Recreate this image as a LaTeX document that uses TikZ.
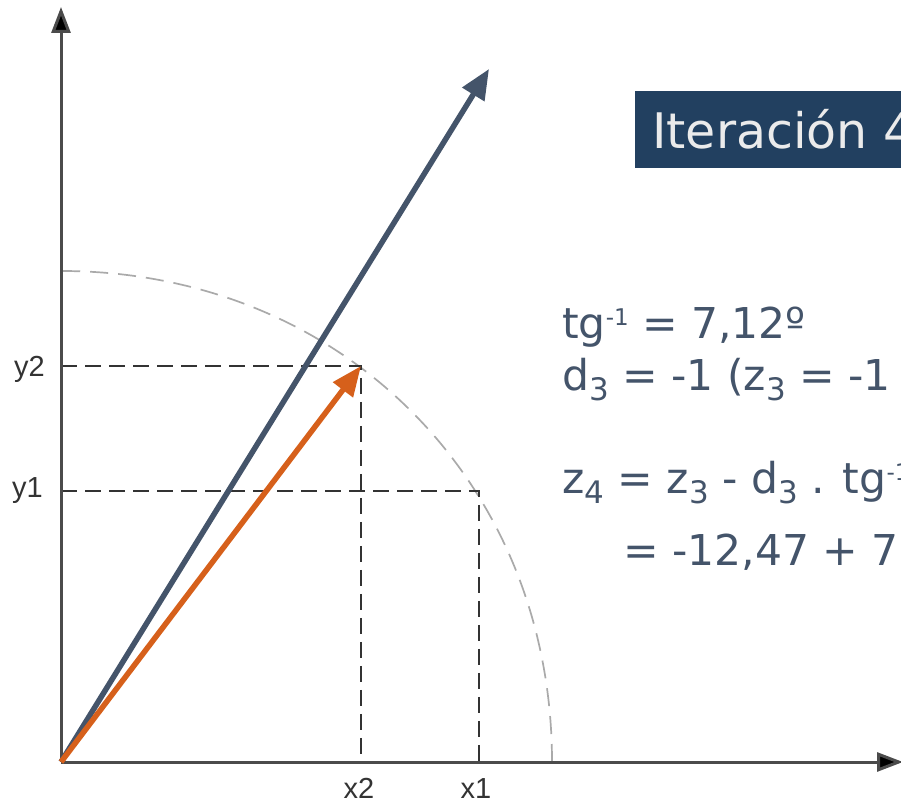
\documentclass[tikz,border=0pt]{standalone}
\usepackage{fontspec}
\setmainfont{DejaVu Sans}
\newfontfamily\arialfont{Liberation Sans}
\usetikzlibrary{arrows.meta}
\definecolor{slate}{RGB}{68,84,106}
\definecolor{vorange}{RGB}{214,96,27}
\definecolor{titlebg}{RGB}{34,64,96}
\definecolor{titlefg}{RGB}{235,235,235}
\definecolor{axisgray}{RGB}{75,75,75}
\definecolor{guidegray}{RGB}{51,51,51}
\definecolor{arcgray}{RGB}{170,170,170}
\newcommand\mysup[1]{\raisebox{13pt}{\fontsize{23}{23}\selectfont #1}}
\newcommand\mysub[1]{\raisebox{-10pt}{\fontsize{31}{31}\selectfont #1}}
\begin{document}
\begin{tikzpicture}[x=1pt,y=1pt,
  axisline/.style={draw=axisgray,line width=3pt,-{Triangle[length=26pt,width=19pt,fill=black]}},
  guide/.style={draw=guidegray,line width=2pt,dash pattern=on 16pt off 8pt},
  arcline/.style={draw=arcgray,line width=1.7pt,dash pattern=on 18pt off 10pt},
  vecblue/.style={draw=slate,line width=5.5pt,-{Triangle[length=30pt,width=25pt]}},
  vecorange/.style={draw=vorange,line width=5.5pt,-{Triangle[length=30pt,width=24pt]}},
  axlabel/.style={inner sep=0pt,text=guidegray,font=\arialfont\fontsize{29}{29}\selectfont},
  bodytext/.style={inner sep=0pt,anchor=base west,text=slate,font=\fontsize{42.5}{42.5}\selectfont},
  titlebox/.style={fill=titlebg,draw=none,inner sep=0pt,minimum width=280pt,minimum height=77pt},
  titletext/.style={inner sep=0pt,anchor=base west,text=titlefg,font=\fontsize{49}{49}\selectfont}]
\useasboundingbox (0,0) rectangle (901,805);
\clip (0,0) rectangle (901,805);
% key points
\coordinate (O) at (61,43);
\coordinate (Ytip) at (61,798);
\coordinate (Xtip) at (903,43);
\coordinate (P1) at (479,314);
\coordinate (P2) at (361,439);
\coordinate (B) at (489,736);
\coordinate (Y1) at (61,314);
\coordinate (Y2) at (61,439);
\coordinate (X1) at (479,43);
\coordinate (X2) at (361,43);
\coordinate (Ca) at (552,43);
\coordinate (Cb) at (61,534);
% dashed arc
\draw[arcline] (Ca) .. controls (552,323) and (341,534) .. (Cb);
% guide lines
\draw[guide] (Y2) -- (P2) -- (X2);
\draw[guide] (Y1) -- (P1) -- (X1);
% axes
\draw[axisline] (O) -- (Ytip);
\draw[axisline] (O) -- (Xtip);
% vectors
\draw[vecblue] (O) -- (B);
\draw[vecorange] (O) -- (P2);
% axis labels
\node[axlabel,anchor=base west] (ly2) at (14,428) {y2};
\node[axlabel,anchor=base west] (ly1) at (12,307) {y1};
\node[axlabel,anchor=base] (lx2) at (359,7) {x2};
\node[axlabel,anchor=base] (lx1) at (476,7) {x1};
% title
\node[titlebox,anchor=north west] (tbox) at (635,714) {};
\node[titletext] (title) at (652,656) {Iteración 4};
% formulas
\node[bodytext] (f1) at (562,466) {tg\mysup{-1} = 7,12º};
\node[bodytext] (f2) at (562,414) {d\mysub{3} = -1 (z\mysub{3} = -1};
\node[bodytext] (f3) at (562,311) {z\mysub{4} = z\mysub{3} - d\mysub{3} . tg\mysup{-1}};
\node[bodytext] (f4) at (623,239) {= -12,47 + 7};
\end{tikzpicture}
\end{document}
